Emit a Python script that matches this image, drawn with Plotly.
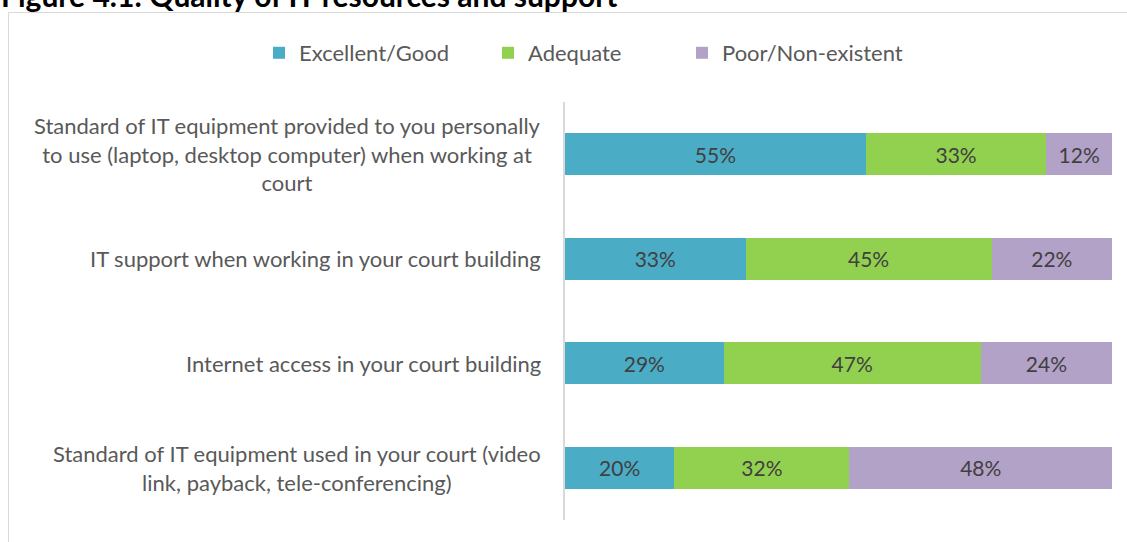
import plotly.graph_objects as go

categories = [
    "Standard of IT equipment provided to you personally<br>to use (laptop, desktop computer) when working at<br>court",
    "IT support when working in your court building",
    "Internet access in your court building",
    "Standard of IT equipment used in your court (video<br>link, payback, tele-conferencing)",
]
series_names = ["Excellent/Good", "Adequate", "Poor/Non-existent"]
excellent_good = [55, 33, 29, 20]
adequate = [33, 45, 47, 32]
poor = [12, 22, 24, 48]
colors = ["#4BACC6", "#92D050", "#B3A2C7"]
title_text = "Figure 4.1: Quality of IT resources and support"

W, H = 1127, 542
L, R, T, B = 565, 15, 102, 22
pw, ph = W - L - R, H - T - B

def px_x(px):
    return (px - L) / pw

def px_y(py):
    return (H - B - py) / ph

FONT = "Lato"
legend_ids = ["legend", "legend2", "legend3"]
legend_px = [259, 488, 682]

fig = go.Figure()
for name, vals, col, lid in zip(series_names, [excellent_good, adequate, poor], colors, legend_ids):
    fig.add_trace(go.Bar(
        y=categories, x=vals, name=name, orientation="h",
        marker=dict(color=col, line=dict(width=0)),
        width=0.4, legend=lid,
        text=[f"{v}%" for v in vals], textposition="inside",
        insidetextanchor="middle",
        textfont=dict(color="#404040", size=21, family=FONT),
        hoverinfo="skip",
    ))

annotations = []
for c in categories:
    annotations.append(dict(
        x=px_x(543), xref="paper", y=c, yref="y", text=c,
        xanchor="right", yanchor="middle", align="center", showarrow=False,
        font=dict(size=22, color="#595959", family=FONT),
    ))
annotations.append(dict(
    x=px_x(-1), xref="paper", y=px_y(-5), yref="paper", text="<b>" + title_text + "</b>",
    xanchor="left", yanchor="middle", showarrow=False,
    font=dict(size=30, color="#000000", family=FONT),
))

legend_common = dict(orientation="h", xanchor="left", y=px_y(53), yanchor="middle",
                     font=dict(size=22, color="#595959", family=FONT),
                     bgcolor="rgba(0,0,0,0)")
legends = {lid: dict(legend_common, x=px_x(lx)) for lid, lx in zip(legend_ids, legend_px)}

fig.update_layout(
    width=W, height=H,
    margin=dict(l=L, r=R, t=T, b=B, pad=0),
    barmode="stack",
    paper_bgcolor="white", plot_bgcolor="white",
    font=dict(family=FONT, color="#595959"),
    xaxis=dict(range=[0, 100], visible=False, fixedrange=True),
    yaxis=dict(categoryorder="array", categoryarray=categories[::-1],
               showticklabels=False, showline=True, linecolor="#D9D9D9",
               linewidth=2, ticks="", showgrid=False, zeroline=False,
               fixedrange=True),
    annotations=annotations,
    shapes=[dict(type="rect", xref="paper", yref="paper",
                 x0=px_x(8.5), x1=px_x(1140), y0=px_y(560), y1=px_y(12.5),
                 line=dict(color="#D9D9D9", width=1), layer="below")],
    showlegend=True,
    **legends,
)
fig.write_html("out.html", config={"displayModeBar": False},
               post_script="document.body.style.margin='0px';document.body.style.overflow='hidden';")
